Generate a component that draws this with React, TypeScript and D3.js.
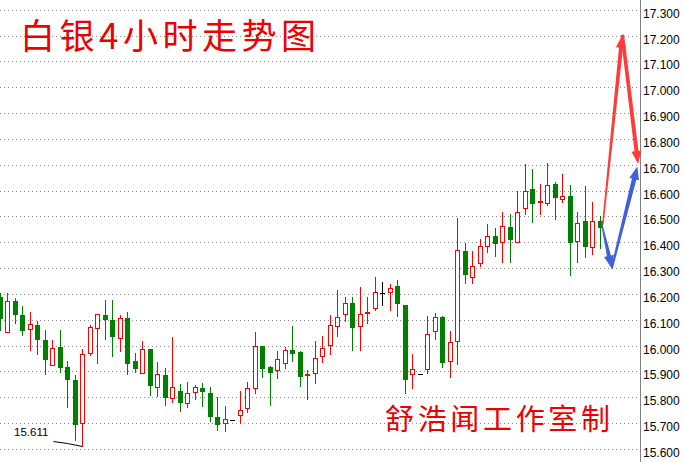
import React from "react";
import * as d3 from "d3";

const opens = [16.191,16.055,16.175,16.121,16.067,16.082,16.024,15.927,15.997,15.919,15.869,15.702,15.974,16.071,16.121,16.102,16.031,16.109,15.942,15.896,15.989,15.842,15.888,15.800,15.826,15.780,15.822,15.838,15.819,15.725,15.702,15.713,15.733,15.760,15.838,16.001,15.919,15.907,15.935,15.985,15.978,15.886,15.896,15.962,16.005,16.078,16.125,16.167,16.078,16.129,16.148,16.206,16.210,16.233,16.160,15.892,15.892,15.911,16.059,16.113,15.942,16.020,16.369,16.268,16.322,16.388,16.427,16.404,16.462,16.404,16.536,16.609,16.557,16.555,16.629,16.571,16.582,16.408,16.485,16.384,16.485];
const highs = [16.206,16.206,16.187,16.156,16.133,16.098,16.063,16.024,16.063,15.942,15.888,15.989,16.082,16.125,16.179,16.179,16.121,16.133,15.974,16.020,15.989,15.938,15.915,16.036,15.853,15.861,15.849,15.857,15.842,15.803,15.768,15.713,15.826,15.861,16.055,16.001,15.922,15.981,15.997,16.078,15.981,15.907,16.020,16.040,16.121,16.217,16.191,16.191,16.229,16.191,16.268,16.249,16.241,16.256,16.160,15.970,15.892,16.117,16.129,16.117,16.059,16.497,16.400,16.369,16.416,16.474,16.458,16.520,16.512,16.602,16.706,16.687,16.629,16.709,16.636,16.667,16.622,16.520,16.618,16.559,16.505];
const lows = [16.063,16.055,16.090,16.043,15.985,15.970,15.892,15.927,15.900,15.764,15.636,15.611,15.966,15.935,16.028,15.962,15.981,15.892,15.900,15.896,15.811,15.807,15.772,15.784,15.749,15.764,15.795,15.768,15.709,15.675,15.671,15.713,15.702,15.745,15.819,15.881,15.772,15.877,15.915,15.942,15.846,15.795,15.857,15.938,15.970,16.040,16.098,15.985,15.985,16.090,16.140,16.160,16.140,16.117,15.819,15.838,15.892,15.896,16.028,15.919,15.881,15.931,16.245,16.245,16.311,16.365,16.350,16.326,16.326,16.404,16.512,16.481,16.512,16.547,16.493,16.559,16.276,16.326,16.346,16.357,16.381];
const closes = [16.109,16.175,16.125,16.063,16.086,16.028,15.950,15.993,15.919,15.873,15.698,15.970,16.074,16.125,16.105,16.040,16.109,15.935,15.915,15.989,15.849,15.892,15.803,15.842,15.784,15.819,15.842,15.826,15.729,15.698,15.717,15.713,15.753,15.838,16.001,15.915,15.900,15.950,15.985,15.974,15.884,15.890,15.954,15.993,16.082,16.113,16.167,16.074,16.125,16.133,16.210,16.206,16.226,16.167,15.873,15.911,15.892,16.047,16.113,15.938,16.016,16.373,16.280,16.311,16.388,16.427,16.400,16.466,16.416,16.520,16.602,16.555,16.561,16.622,16.578,16.582,16.404,16.477,16.388,16.485,16.462];

const yTicks = [15.6,15.7,15.8,15.9,16.0,16.1,16.2,16.3,16.4,16.5,16.6,16.7,16.8,16.9,17.0,17.1,17.2,17.3];

const redForecast = [
  { i: 80.4, v: 16.47 },
  { i: 83.0, v: 17.205 },
  { i: 85.1, v: 16.705 },
];
const blueForecast = [
  { i: 80.2, v: 16.48 },
  { i: 81.6, v: 16.3 },
  { i: 85.0, v: 16.695 },
];

const title = "白银4小时走势图";
const watermark = "舒浩闻工作室制";
const lowIndex = 11;
const lowValue = 15.611;
const lowText = "15.611";

const W = 685;
const H = 462;

function arrowPath(x0: number, y0: number, x1: number, y1: number, w0: number, w1: number, hl: number, hw: number) {
  const dx = x1 - x0, dy = y1 - y0;
  const L = Math.hypot(dx, dy);
  const ux = dx / L, uy = dy / L;
  const nx = -uy, ny = ux;
  const bx = x1 - ux * hl, by = y1 - uy * hl;
  const p = d3.path();
  p.moveTo(x0 + nx * w0 / 2, y0 + ny * w0 / 2);
  p.lineTo(bx + nx * w1 / 2, by + ny * w1 / 2);
  p.lineTo(bx + nx * hw / 2, by + ny * hw / 2);
  p.lineTo(x1, y1);
  p.lineTo(bx - nx * hw / 2, by - ny * hw / 2);
  p.lineTo(bx - nx * w1 / 2, by - ny * w1 / 2);
  p.lineTo(x0 - nx * w0 / 2, y0 - ny * w0 / 2);
  p.closePath();
  return p.toString();
}

export default function App() {
  const x = d3.scaleLinear().domain([0, 80]).range([-0.2, 599.8]);
  const y = d3.scaleLinear().domain([15.6, 17.3]).range([449.3, 10.3]);
  const axisX = 640;

  const candles = opens.map((o, i) => {
    const c = closes[i], h = highs[i], l = lows[i];
    const px = Math.round(x(i));
    const yH = Math.round(y(h));
    const yL = Math.round(y(l));
    const yO = Math.round(y(o));
    const yC = Math.round(y(c));
    const els: any[] = [];
    if (c > o) {
      if (yL > yH) els.push(<rect key="w" x={px} y={yH} width={1} height={yL - yH + 1} fill="#ff0000" />);
      const top = yC, bot = yO;
      els.push(<rect key="b" x={px - 1.5} y={top + 0.5} width={4} height={Math.max(1, bot - top)} fill="#ffffff" stroke="#ff0000" strokeWidth={1} />);
    } else if (c < o) {
      if (yL > yH) els.push(<rect key="w" x={px} y={yH} width={1} height={yL - yH + 1} fill="#008000" />);
      const top = yO, bot = yC;
      els.push(<rect key="b" x={px - 2} y={top} width={5} height={Math.max(1, bot - top + 1)} fill="#008000" />);
    } else {
      if (yL > yH) els.push(<rect key="w" x={px} y={yH} width={1} height={yL - yH + 1} fill="#000000" />);
      els.push(<rect key="b" x={px - 2} y={yO} width={5} height={1} fill="#000000" />);
    }
    return <g key={i}>{els}</g>;
  });

  const arrows = (pts: { i: number; v: number }[], color: string, specs: number[][]) =>
    pts.slice(0, -1).map((p, k) => {
      const q = pts[k + 1];
      const [w0, w1, hl, hw] = specs[k];
      return <path key={k} d={arrowPath(x(p.i), y(p.v), x(q.i), y(q.v), w0, w1, hl, hw)} fill={color} />;
    });

  const lowX = Math.round(x(lowIndex)) + 0.5;
  const lowY = Math.round(y(lowValue)) + 0.5;

  return (
    <>
      <style>{"body{margin:0;overflow:hidden;}"}</style>
      <svg width={W} height={H} style={{ position: "absolute", left: 0, top: 0, background: "#fff" }}>
        <rect x={0} y={0} width={W} height={H} fill="#ffffff" />
        {yTicks.map((t) => {
          const gy = Math.floor(y(t)) + 0.5;
          return (
            <g key={t}>
              <line x1={0} x2={axisX} y1={gy} y2={gy} stroke="#8a8a8a" strokeWidth={1} strokeDasharray="1 3" />
              <text x={643} y={gy + 7} fontFamily="'Liberation Sans', Arial, sans-serif" fontSize={12} fill="#000">
                {t.toFixed(3)}
              </text>
            </g>
          );
        })}
        <line x1={axisX + 0.5} x2={axisX + 0.5} y1={0} y2={H} stroke="#808080" strokeWidth={1} />
        {candles}
        {arrows(redForecast, "#ff3c3c", [[1.5, 4, 13, 10], [3.5, 4, 13, 10]])}
        {arrows(blueForecast, "#3f5fdc", [[1, 4, 13, 10], [2, 4.5, 13, 10]])}
        <text x={14} y={436} fontFamily="'Liberation Sans', Arial, sans-serif" fontSize={11.5} fill="#000">{lowText}</text>
        <polyline points={`${lowX - 29},${lowY - 5} ${lowX - 15},${lowY - 3} ${lowX},${lowY}`} fill="none" stroke="#000" strokeWidth={1} />
        <text x={20} y={49} fontFamily="'Noto Sans CJK SC', sans-serif" fontSize={35} fill="#ee0000" textLength={296} lengthAdjust="spacing">{title}</text>
        <text x={385} y={430} fontFamily="'Noto Sans CJK SC', sans-serif" fontSize={29} fill="#ee0000" textLength={225} lengthAdjust="spacing">{watermark}</text>
      </svg>
    </>
  );
}
